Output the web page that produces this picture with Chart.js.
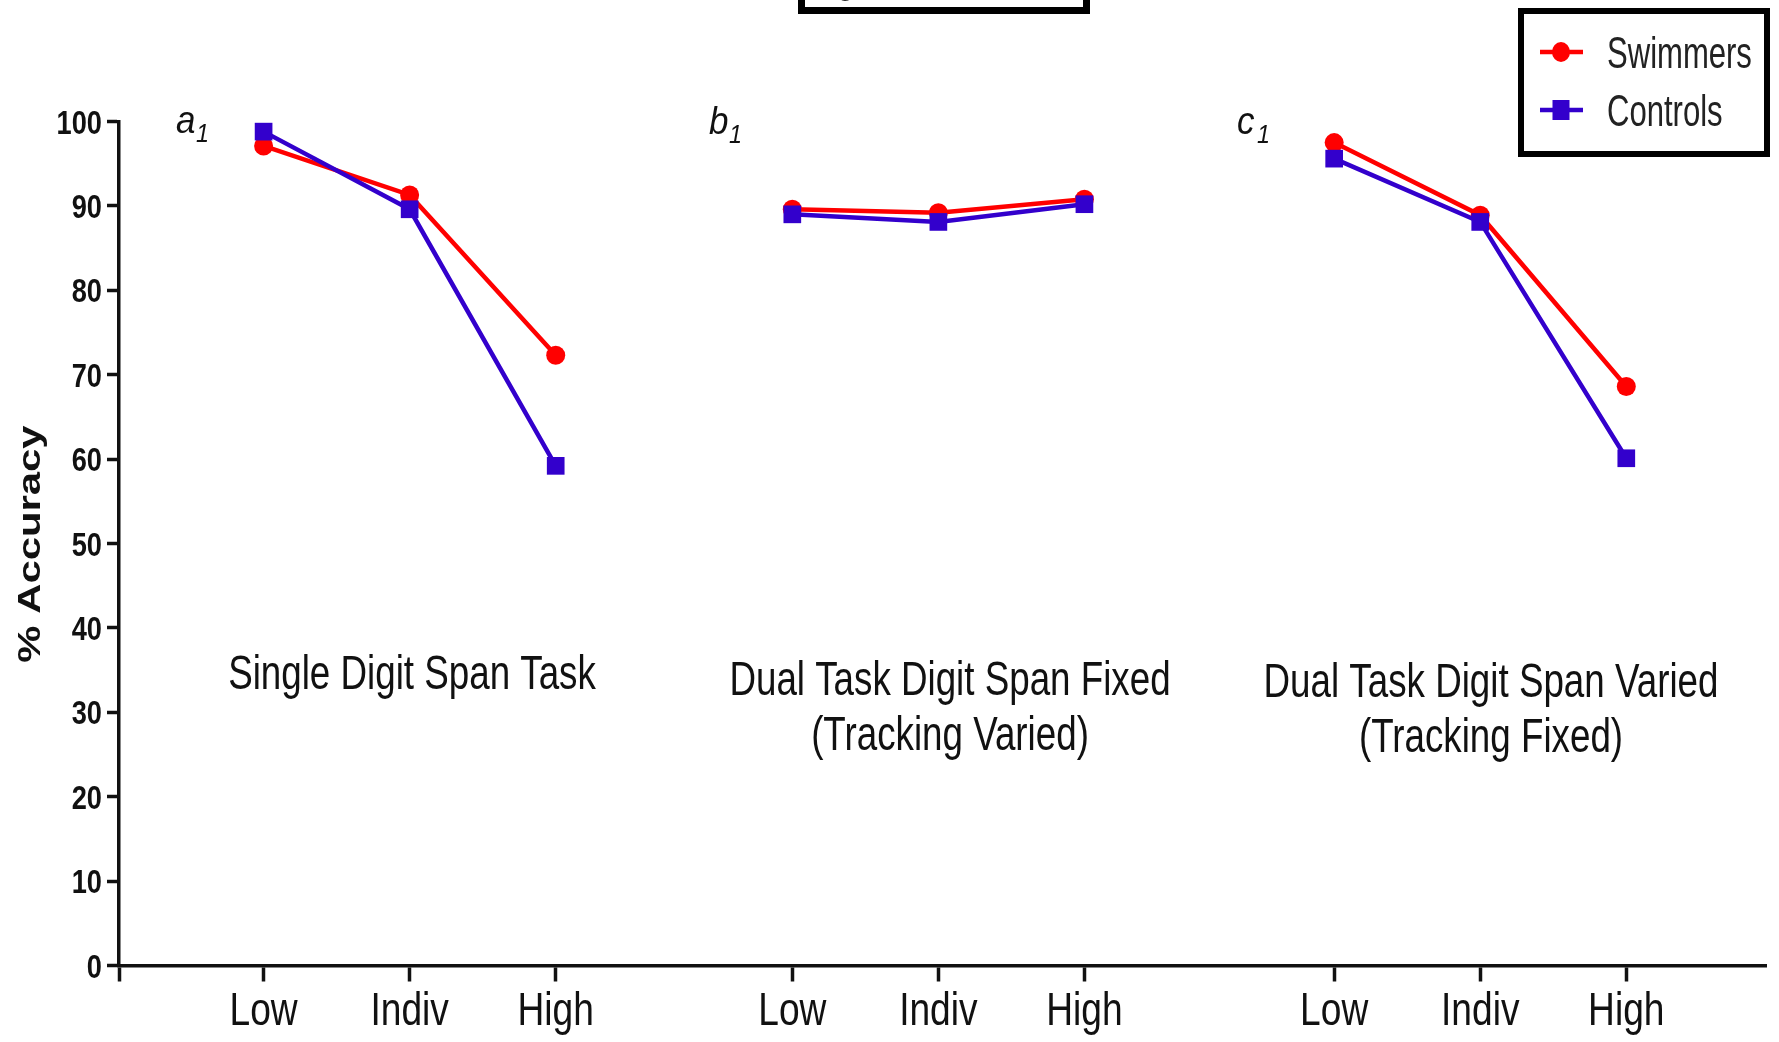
<!DOCTYPE html>
<html>
<head>
<meta charset="utf-8">
<title>% Accuracy by load condition</title>
<script src="https://cdn.jsdelivr.net/npm/chart.js@4.4.1/dist/chart.umd.min.js"></script>
<style>
  html, body { margin: 0; padding: 0; background: #fff; }
  #wrap { width: 1779px; height: 1042px; }
</style>
</head>
<body>
<div id="wrap"><canvas id="chart" width="1779" height="1042"></canvas></div>
<script>
const conditions = ['Low', 'Indiv', 'High'];
const panelTags = ['a', 'b', 'c'];
const panelTitles = [
  ['Single Digit Span Task'],
  ['Dual Task Digit Span Fixed', '(Tracking Varied)'],
  ['Dual Task Digit Span Varied', '(Tracking Fixed)']
];
// where each panel's "Low" sits on the shared x axis
const panelStart = [0.99, 4.61, 8.32];
const swimmers = [
  [97.1, 91.3, 72.3],
  [89.6, 89.2, 90.8],
  [97.5, 88.9, 68.6]
];
const controls = [
  [98.8, 89.6, 59.2],
  [89.0, 88.1, 90.2],
  [95.6, 88.1, 60.1]
];
const seriesNames = ['Swimmers', 'Controls'];
const seriesColors = ['#ff0000', '#3300cc'];
const yTicks = [0, 10, 20, 30, 40, 50, 60, 70, 80, 90, 100];

const FONT = '"Liberation Sans", Arial, sans-serif';

// one line per series, broken between panels with a null point
const toPoints = (vals) => {
  const pts = [];
  vals.forEach((row, p) => {
    if (p > 0) pts.push({ x: panelStart[p] - 0.5, y: null });
    row.forEach((v, i) => pts.push({ x: panelStart[p] + i, y: v }));
  });
  return pts;
};

const xTickValues = [0];
const xTickLabels = {};
panelStart.forEach(s => conditions.forEach((c, i) => {
  xTickValues.push(s + i);
  xTickLabels[s + i] = c;
}));

// squeezed text, the figure is stretched vertically
const text = (ctx, str, x, y, font, sx, align, color) => {
  ctx.save();
  ctx.font = font;
  ctx.fillStyle = color || '#111';
  ctx.textAlign = align || 'center';
  ctx.textBaseline = 'alphabetic';
  ctx.translate(x, y);
  ctx.scale(sx, 1);
  ctx.fillText(str, 0, 0);
  ctx.restore();
};

const decor = {
  id: 'decor',
  afterDraw(chart, args, opts) {
    const { ctx, chartArea } = chart;
    const x = chart.scales.x, y = chart.scales.y;

    // bit of the figure title box cut off at the top
    ctx.save();
    ctx.lineWidth = 7;
    ctx.strokeStyle = '#000';
    ctx.strokeRect(801.5, -30, 285, 40.5);
    ctx.restore();
    text(ctx, 'Figure 1', 868, -7, 'bold 40px ' + FONT, 0.75, 'center', '#222');

    // y tick labels
    yTicks.forEach(v => {
      text(ctx, String(v), 102, y.getPixelForValue(v) + 12, 'bold 34px ' + FONT, 0.8, 'right');
    });

    // x tick labels
    x.ticks.forEach(t => {
      const lab = xTickLabels[t.value];
      if (lab) text(ctx, lab, x.getPixelForValue(t.value), chartArea.bottom + 59, '47px ' + FONT, 0.79, 'center');
    });

    // y title
    ctx.save();
    ctx.font = 'bold 31px ' + FONT;
    ctx.fillStyle = '#111';
    ctx.textAlign = 'center';
    ctx.translate(40, 544);
    ctx.rotate(-Math.PI / 2);
    ctx.scale(1.35, 1);
    ctx.fillText('% Accuracy', 0, 0);
    ctx.restore();

    // panel tags and titles
    opts.tags.forEach((p, i) => {
      text(ctx, panelTags[i], p[0], p[1], 'italic 38px ' + FONT, 0.92, 'left');
      text(ctx, '1', p[0] + 20, p[1] + 9, 'italic 26px ' + FONT, 0.9, 'left');
    });
    opts.titles.forEach((p, i) => {
      panelTitles[i].forEach((line, k) => {
        text(ctx, line, p[0], p[1] + k * 55, '49px ' + FONT, 0.75, 'center');
      });
    });

    // legend
    ctx.save();
    ctx.lineWidth = 6;
    ctx.strokeStyle = '#000';
    ctx.strokeRect(1521, 11, 246, 143);
    chart.data.datasets.forEach((ds, i) => {
      const ly = opts.legendRows[i];
      ctx.strokeStyle = ds.borderColor;
      ctx.fillStyle = ds.borderColor;
      ctx.lineWidth = 4.5;
      ctx.beginPath();
      ctx.moveTo(1540, ly);
      ctx.lineTo(1583, ly);
      ctx.stroke();
      if (ds.pointStyle === 'circle') {
        ctx.beginPath();
        ctx.ellipse(1561, ly, 9, 10, 0, 0, Math.PI * 2);
        ctx.fill();
      } else {
        ctx.fillRect(1552.5, ly - 10, 17, 20);
      }
      text(ctx, ds.label, 1607, ly + 16, '45px ' + FONT, 0.69, 'left', '#222');
    });
    ctx.restore();
  }
};

const tickGrid = (len) => ({
  display: true,
  drawOnChartArea: false,
  drawTicks: true,
  tickLength: len,
  tickWidth: 3.5,
  tickColor: '#111'
});

new Chart(document.getElementById('chart'), {
  type: 'line',
  data: {
    datasets: [
      {
        label: seriesNames[0],
        data: toPoints(swimmers),
        borderColor: seriesColors[0],
        backgroundColor: seriesColors[0],
        borderWidth: 4.5,
        pointStyle: 'circle',
        pointRadius: 9.5,
        pointBorderWidth: 0,
        order: 2
      },
      {
        label: seriesNames[1],
        data: toPoints(controls),
        borderColor: seriesColors[1],
        backgroundColor: seriesColors[1],
        borderWidth: 4.5,
        pointStyle: 'rect',
        pointRadius: 12.5,
        pointBorderWidth: 0,
        order: 1
      }
    ]
  },
  plugins: [decor],
  options: {
    responsive: false,
    animation: false,
    devicePixelRatio: 1,
    clip: false,
    spanGaps: false,
    elements: { line: { tension: 0 } },
    layout: { padding: { left: 0, top: 121.5, right: 7, bottom: 0 } },
    scales: {
      x: {
        type: 'linear',
        min: 0,
        max: 11.28,
        afterBuildTicks: (scale) => { scale.ticks = xTickValues.map(v => ({ value: v })); },
        afterFit: (scale) => { scale.height = 76.5; },
        ticks: { display: false },
        grid: tickGrid(16),
        border: { display: true, color: '#111', width: 3.5 }
      },
      y: {
        min: 0,
        max: 100,
        afterBuildTicks: (scale) => { scale.ticks = yTicks.map(v => ({ value: v })); },
        afterFit: (scale) => { scale.width = 119; },
        ticks: { display: false },
        grid: tickGrid(12),
        border: { display: true, color: '#111', width: 3.5 }
      }
    },
    plugins: {
      legend: { display: false },
      tooltip: { enabled: false },
      decor: {
        tags: [[176, 133], [709, 134], [1237, 134]],
        titles: [[412, 689], [950, 695], [1491, 697]],
        legendRows: [52, 110]
      }
    }
  }
});
</script>
</body>
</html>
